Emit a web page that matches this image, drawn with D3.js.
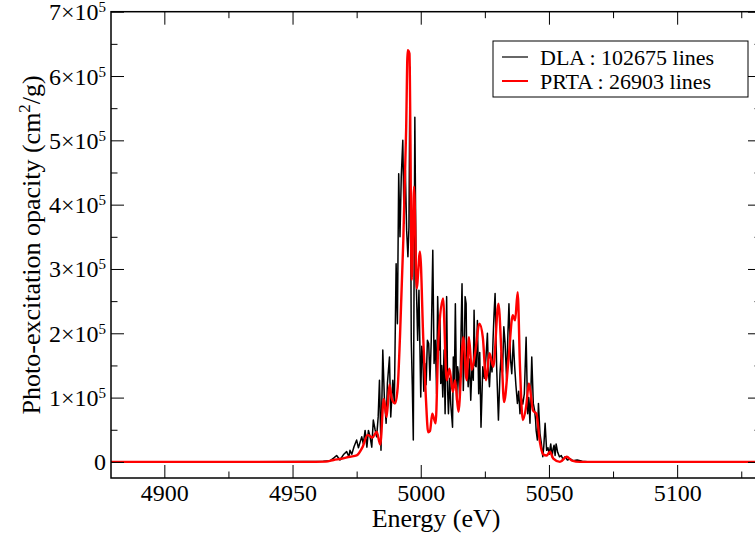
<!DOCTYPE html>
<html>
<head>
<meta charset="utf-8">
<script src="https://cdn.jsdelivr.net/npm/d3@7"></script>
<style>
  body { margin: 0; background: #fff; }
  svg { display: block; font-family: "Liberation Serif", "Times New Roman", serif; }
  text { font-family: "Liberation Serif", "Times New Roman", serif; fill: #000; }
</style>
</head>
<body>
<svg id="chart" width="755" height="538"></svg>
<script>
// Data (values in 10^3 cm^2/g, energy in eV)
let dlaE = [4879, 4930, 4955, 4962, 4964.7, 4966, 4967.2, 4968.5, 4970, 4971.1, 4972, 4972.4, 4973.1, 4974, 4975.0, 4975.7, 4976.3, 4977.0, 4977.6, 4978.3, 4979.0, 4979.6, 4980.2, 4980.9, 4981.5, 4982.2, 4982.8, 4983.4, 4983.9, 4984.5, 4985.2, 4985.8, 4986.5, 4987.0, 4987.8, 4988.3, 4989.1, 4989.7, 4990.4, 4990.9, 4991.4, 4991.9, 4992.4, 4993.0, 4993.5, 4994.0, 4994.5, 4995.0, 4995.4, 4995.8, 4996.3, 4996.7, 4997.1, 4997.7, 4998.2, 4998.8, 4999.3, 5000.0, 5000.4, 5000.8, 5001.2, 5001.6, 5002.1, 5002.6, 5003.1, 5003.6, 5004.1, 5004.7, 5005.2, 5005.7, 5006.2, 5006.6, 5007.1, 5007.5, 5007.8, 5008.2, 5008.6, 5009.1, 5009.5, 5009.8, 5010.1, 5010.5, 5010.8, 5011.3, 5011.7, 5012.1, 5012.4, 5012.7, 5013.1, 5013.5, 5014.0, 5014.4, 5014.7, 5015.2, 5015.6, 5016.1, 5016.6, 5017.0, 5017.3, 5017.7, 5017.9, 5018.5, 5019.0, 5019.5, 5020.0, 5020.5, 5020.8, 5021.2, 5021.6, 5022.1, 5022.6, 5023.0, 5023.5, 5024.2, 5024.8, 5025.4, 5026.0, 5026.4, 5026.8, 5027.3, 5027.8, 5028.2, 5028.6, 5029.0, 5029.6, 5030.3, 5030.9, 5031.4, 5031.9, 5032.4, 5032.9, 5033.5, 5034.0, 5034.4, 5035.0, 5035.5, 5036.1, 5036.6, 5037.1, 5037.7, 5038.2, 5038.7, 5039.2, 5039.8, 5040.4, 5041.1, 5041.7, 5042.1, 5042.6, 5043.3, 5043.9, 5044.4, 5044.8, 5045.0, 5045.5, 5045.9, 5046.5, 5047.0, 5047.6, 5048.0, 5048.5, 5049.1, 5049.6, 5050.1, 5050.7, 5051.2, 5051.6, 5052.0, 5052.4, 5052.8, 5053.4, 5054.1, 5054.8, 5055.5, 5056.3, 5057.2, 5058.2, 5059.3, 5061, 5063, 5066, 5133]
let dlaV = [0, 0, 0.5, 1, 2, 6, 10, 3, 12, 16, 8, 18, 12, 24, 34, 22, 30, 39, 28, 49, 23, 49, 40, 23, 65, 50, 39, 70, 127, 18, 174, 101, 60, 122, 163, 70, 127, 91, 308, 215, 448, 350, 443, 500, 371, 454, 360, 319, 365, 614, 189, 120, 34, 536, 288, 189, 267, 101, 180, 163, 110, 153, 120, 189, 184, 127, 189, 329, 153, 189, 106, 257, 174, 220, 122, 150, 101, 174, 75, 158, 257, 110, 75, 130, 90, 70, 54, 163, 120, 246, 96, 148, 137, 100, 180, 277, 111, 179, 257, 246, 169, 117, 160, 96, 150, 127, 236, 150, 148, 220, 106, 170, 54, 148, 130, 160, 200, 140, 117, 160, 140, 190, 231, 262, 148, 65, 137, 170, 140, 210, 184, 127, 200, 246, 160, 137, 189, 150, 120, 91, 110, 75, 100, 90, 106, 194, 75, 100, 60, 163, 91, 80, 65, 49, 34, 91, 44, 30, 8, 25, 60, 18, 22, 12, 28, 8, 20, 26, 10, 28, 15, 8, 10, 4, 8, 3, 5, 2, 3, 1, 0, 0]

let prtaE = [4879, 4955, 4963, 4966, 4969, 4972.4, 4975, 4977.3, 4979.3, 4981.2, 4982.8, 4984.2, 4985.6, 4986.7, 4987.8, 4988.7, 4990.0, 4991.0, 4991.9, 4993.2, 4994.3, 4994.9, 4995.6, 4996.5, 4997.4, 4998.4, 4999.7, 5001.0, 5002.0, 5002.9, 5003.6, 5004.5, 5005.8, 5006.9, 5008.7, 5010.1, 5011.2, 5012.5, 5013.4, 5014.7, 5016.6, 5017.9, 5018.8, 5019.9, 5021.2, 5022.9, 5024.2, 5025.5, 5026.8, 5028.3, 5030.3, 5031.6, 5032.5, 5034.2, 5035.9, 5036.8, 5037.8, 5038.7, 5039.8, 5041.1, 5042.2, 5043.8, 5045.1, 5046.5, 5047.7, 5049.1, 5050.4, 5051.7, 5054.3, 5056.9, 5059, 5062, 5133]
let prtaV = [0, 0, 0.5, 3, 5, 8, 10, 23, 42, 38, 47, 27, 98, 70, 120, 98, 91, 115, 194, 345, 516, 640, 635, 283, 428, 270, 327, 190, 100, 46, 48, 75, 60, 190, 254, 127, 145, 109, 127, 78, 194, 127, 194, 143, 169, 215, 194, 127, 169, 148, 246, 158, 93, 158, 228, 220, 264, 148, 65, 86, 122, 80, 75, 30, 12, 10, 16, 5, 0, 8, 2, 0, 0]

let majorE = [4900, 4950, 5000, 5050, 5100]
let minorE = [4925, 4975, 5025, 5075, 5125]
let majorY = [0, 1e5, 2e5, 3e5, 4e5, 5e5, 6e5, 7e5]
let minorY = [5e4, 1.5e5, 2.5e5, 3.5e5, 4.5e5, 5.5e5, 6.5e5]

let series = [
  { name: "DLA : 102675 lines", E: dlaE, V: dlaV, color: "#000", width: 1.5, curve: d3.curveLinear },
  { name: "PRTA : 26903 lines", E: prtaE, V: prtaV, color: "#ff0000", width: 2.4, curve: d3.curveMonotoneX }
]

// Layout
let L = 111, R = 761, T = 11.7, B = 478
const FONT = "Liberation Serif"

let svg = d3.select("#chart")
let x = d3.scaleLinear().domain([4879.2, 5132.7]).range([L, R])
let y = d3.scaleLinear().domain([-25000, 700000]).range([B, T])

svg.append("defs").append("clipPath").attr("id", "plot")
  .append("rect").attr("x", L).attr("y", T).attr("width", R - L).attr("height", B - T)

// Lines
let line = d3.line().x(d => x(d[0])).y(d => y(d[1] * 1000))
series.forEach(s => {
  let pts = s.E.map((e, i) => [e, s.V[i]])
  svg.append("path")
    .attr("clip-path", "url(#plot)")
    .attr("d", line.curve(s.curve)(pts))
    .attr("fill", "none")
    .attr("stroke", s.color)
    .attr("stroke-width", s.width)
    .attr("stroke-linejoin", "round")
})

// Axes helpers
let noDomain = g => g.select(".domain").remove()
let tickStyle = g => g.attr("font-family", FONT).selectAll(".tick line").attr("stroke", "#000").attr("stroke-width", 1)

// bottom
svg.append("g").attr("transform", `translate(0,${B})`)
  .call(d3.axisBottom(x).tickValues(majorE).tickSize(-13).tickPadding(6).tickFormat(d3.format("d")))
  .call(noDomain).call(tickStyle)
  .call(g => g.selectAll("text").attr("font-size", 24))
svg.append("g").attr("transform", `translate(0,${B})`)
  .call(d3.axisBottom(x).tickValues(minorE).tickSize(-6.5).tickFormat(""))
  .call(noDomain).call(tickStyle)
// top
svg.append("g").attr("transform", `translate(0,${T})`)
  .call(d3.axisTop(x).tickValues(majorE).tickSize(-13).tickFormat(""))
  .call(noDomain).call(tickStyle)
svg.append("g").attr("transform", `translate(0,${T})`)
  .call(d3.axisTop(x).tickValues(minorE).tickSize(-6.5).tickFormat(""))
  .call(noDomain).call(tickStyle)
// left
let gy = svg.append("g").attr("transform", `translate(${L},0)`)
  .call(d3.axisLeft(y).tickValues(majorY).tickSize(-13).tickFormat(""))
  .call(noDomain).call(tickStyle)
svg.append("g").attr("transform", `translate(${L},0)`)
  .call(d3.axisLeft(y).tickValues(minorY).tickSize(-6.5).tickFormat(""))
  .call(noDomain).call(tickStyle)
// right
svg.append("g").attr("transform", `translate(${R},0)`)
  .call(d3.axisRight(y).tickValues(majorY).tickSize(-13).tickFormat(""))
  .call(noDomain).call(tickStyle)
svg.append("g").attr("transform", `translate(${R},0)`)
  .call(d3.axisRight(y).tickValues(minorY).tickSize(-6.5).tickFormat(""))
  .call(noDomain).call(tickStyle)

// y tick labels with superscript exponent
gy.selectAll(".tick").each(function(d) {
  let t = d3.select(this).append("text")
    .attr("x", -5).attr("y", 8)
    .attr("text-anchor", "end")
    .attr("font-size", 24)
  if (d === 0) {
    t.text("0")
  } else {
    t.append("tspan").text(`${d / 1e5}\u00d710`)
    t.append("tspan").attr("dy", -8).attr("font-size", 15).text("5")
  }
})

// frame
svg.append("rect")
  .attr("x", L).attr("y", T).attr("width", R - L).attr("height", B - T)
  .attr("fill", "none").attr("stroke", "#000").attr("stroke-width", 1.5)

// axis titles
svg.append("text")
  .attr("x", (L + R) / 2).attr("y", 527)
  .attr("text-anchor", "middle").attr("font-size", 26)
  .text("Energy (eV)")

let yt = svg.append("text")
  .attr("transform", `translate(40,${(T + B) / 2}) rotate(-90)`)
  .attr("text-anchor", "middle").attr("font-size", 26)
yt.append("tspan").text("Photo-excitation opacity (cm")
yt.append("tspan").attr("dy", -10).attr("font-size", 17).text("2")
yt.append("tspan").attr("dy", 10).text("/g)")

// legend
let lg = svg.append("g")
lg.append("rect")
  .attr("x", 493).attr("y", 41).attr("width", 255).attr("height", 56)
  .attr("fill", "#fff").attr("stroke", "#000").attr("stroke-width", 1)
series.forEach((s, i) => {
  let cy = 57 + i * 24
  lg.append("line")
    .attr("x1", 502).attr("x2", 528).attr("y1", cy).attr("y2", cy)
    .attr("stroke", s.color).attr("stroke-width", i === 0 ? 1.2 : 2)
  lg.append("text")
    .attr("x", 540).attr("y", cy + 7.5)
    .attr("font-size", 22)
    .text(s.name)
})
</script>
</body>
</html>
